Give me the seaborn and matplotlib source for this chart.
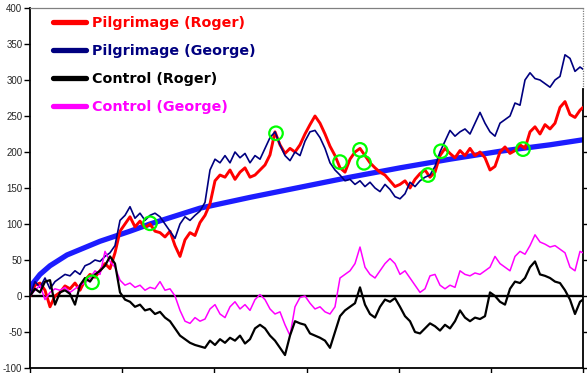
import matplotlib
matplotlib.use("Agg")
import matplotlib.pyplot as plt
import seaborn as sns
import pandas as pd
import numpy as np
from matplotlib.lines import Line2D

# ---------------- data ----------------
days = list(range(0, 551, 5)) + [553]

pilgrimage_roger = [
    0, 15, 18, 8, -15, 0, 5, 14, 10, 18, 8, 22, 30, 26, 35, 45, 38, 60, 90, 100,
    110, 96, 104, 95, 100, 90, 88, 82, 90, 70, 55, 78, 88, 84, 102, 112, 128, 160, 168, 165,
    175, 162, 172, 178, 165, 168, 175, 182, 196, 228, 210, 198, 205, 200, 210, 225, 238, 250, 240, 225,
    208, 195, 178, 172, 190, 200, 205, 195, 185, 178, 172, 168, 160, 152, 155, 160, 150, 162, 170, 175,
    165, 172, 195, 205, 198, 192, 202, 195, 205, 195, 200, 192, 175, 180, 200, 207, 198, 202, 210, 205,
    228, 235, 225, 238, 232, 240, 262, 270, 252, 248, 258, 262]

pilgrimage_george = [
    0, 20, 12, 25, 10, 20, 25, 30, 28, 35, 30, 42, 45, 50, 48, 55, 60, 70, 105, 112,
    124, 108, 115, 105, 112, 115, 110, 100, 90, 80, 100, 110, 105, 112, 118, 130, 175, 190, 185, 195,
    185, 200, 192, 198, 185, 195, 190, 205, 220, 228, 210, 195, 188, 200, 195, 215, 228, 230, 220, 205,
    185, 175, 168, 160, 162, 155, 160, 152, 158, 150, 145, 155, 148, 138, 135, 142, 158, 152, 160, 165,
    168, 180, 200, 215, 230, 222, 228, 232, 225, 240, 255, 240, 228, 222, 240, 245, 250, 268, 265, 300,
    310, 302, 300, 295, 290, 300, 305, 335, 330, 312, 318, 315]

control_roger = [
    0, 10, 5, 20, 22, -12, 5, 8, 3, -12, 15, 25, 20, 30, 35, 42, 55, 45, 5, -5,
    -8, -15, -12, -20, -18, -25, -22, -30, -35, -45, -55, -60, -65, -68, -70, -72, -62, -68, -60, -65,
    -58, -62, -55, -66, -60, -45, -40, -45, -55, -62, -72, -82, -55, -35, -38, -40, -52, -55, -58, -62,
    -72, -50, -28, -20, -15, -10, 12, -12, -25, -30, -15, -5, -8, -3, -15, -28, -35, -50, -52, -45,
    -38, -42, -48, -40, -45, -35, -20, -30, -35, -30, -32, -28, 5, 0, -8, -12, 10, 20, 18, 25,
    40, 48, 30, 28, 25, 20, 18, 8, -5, -25, -8, -5]

control_george = [
    0, 8, 15, -5, 5, 10, 8, 12, 5, 10, 15, 18, 25, 35, 30, 62, 48, 40, 22, 15,
    18, 12, 15, 8, 12, 10, 20, 8, 10, 0, -20, -35, -38, -30, -35, -32, -18, -12, -25, -30,
    -15, -8, -18, -12, -20, -5, 2, -5, -18, -25, -22, -40, -55, -15, -2, 0, -10, -18, -15, -22,
    -25, -15, 25, 30, 35, 45, 68, 40, 30, 25, 35, 45, 52, 45, 30, 35, 25, 15, 5, 10,
    28, 30, 15, 10, 15, 12, 35, 30, 28, 32, 30, 35, 40, 55, 45, 40, 35, 55, 62, 58,
    70, 85, 75, 72, 68, 70, 65, 60, 40, 35, 62, 60]

trend_days = [0, 2, 10, 20, 37, 70, 100, 120, 170, 220, 270, 320, 370, 420, 470, 520, 553]
trend_values = [10, 16, 30, 42, 57, 76, 90, 100, 122, 137, 151, 165, 178, 190, 201, 210, 217]

marker_days = [62, 120, 246, 310, 330, 334, 398, 411, 493]
marker_values = [19, 101, 226, 186, 203, 185, 168, 201, 204]

series_labels = ["Pilgrimage (Roger)", "Pilgrimage (George)", "Control (Roger)", "Control (George)"]
series_colors = ["#FF0000", "#000080", "#000000", "#FF00FF"]
yticks = list(range(-100, 401, 50))

# ---------------- figure ----------------
sns.set_style("white")
plt.rcParams['font.family'] = ['DejaVu Sans']

W, H = 587, 373
fig = plt.figure(figsize=(W / 100, H / 100), dpi=100)
ax = fig.add_axes([30 / W, 5 / H, 553 / W, 360 / H])

trend_df = pd.DataFrame({"day": trend_days, "value": trend_values})
sns.lineplot(data=trend_df, x="day", y="value", ax=ax, color="#1c1cff", linewidth=3.8,
             sort=False, estimator=None, zorder=2)

ax.axhline(0, color="black", linewidth=1.7, zorder=3)

all_series = [pilgrimage_roger, pilgrimage_george, control_roger, control_george]
order = [0, 1, 3, 2]
widths = {0: 2.1, 1: 1.2, 2: 1.6, 3: 1.1}
for idx in order:
    df = pd.DataFrame({"day": days, "value": all_series[idx]})
    sns.lineplot(data=df, x="day", y="value", ax=ax, color=series_colors[idx],
                 linewidth=widths[idx], sort=False, estimator=None, zorder=4)

mk_df = pd.DataFrame({"day": marker_days, "value": marker_values})
sns.scatterplot(data=mk_df, x="day", y="value", ax=ax, s=95, facecolors="none",
                edgecolor="#00FF00", linewidth=1.6, zorder=6)

ax.set_xlim(0, 553)
ax.set_ylim(-100, 400)
ax.set_xlabel("")
ax.set_ylabel("")
ax.set_xticks(np.linspace(0, 553, 7))
ax.set_xticklabels([])
ax.set_yticks(yticks)
ax.set_yticklabels([str(v) for v in yticks], fontsize=7, family="Liberation Sans")
ax.tick_params(axis="y", left=True, length=4, width=1, pad=1.5, color="black")
ax.tick_params(axis="x", bottom=True, length=4, width=1, color="black")

for side in ["left", "bottom"]:
    ax.spines[side].set_color("black")
    ax.spines[side].set_linewidth(1.3)
ax.spines["top"].set_color("#808080")
ax.spines["top"].set_linestyle((0, (1, 1)))
ax.spines["top"].set_linewidth(0.9)
ax.spines["right"].set_color("black")
ax.spines["right"].set_linewidth(1.3)
ax.spines["right"].set_bounds(-100, 287)
ax.axvline(553, ymin=(287 + 100) / 500, ymax=1, color="#808080",
           linestyle=(0, (1, 1)), linewidth=0.9, clip_on=False)

sec = ax.secondary_yaxis("right")
sec.set_yticks(list(range(-100, 251, 50)))
sec.set_yticklabels([])
sec.tick_params(length=4, width=1, color="black")
sec.spines["right"].set_visible(False)

handles = [Line2D([0], [0], color=c, linewidth=3.8) for c in series_colors]
leg = ax.legend(handles, series_labels, loc="upper left",
                bbox_to_anchor=(53 / W, 1 - 16 / H), bbox_transform=fig.transFigure,
                frameon=False, borderpad=0, borderaxespad=0, handlelength=2.3,
                handletextpad=0.45, labelspacing=0.97,
                prop={"family": "DejaVu Sans", "weight": "bold", "size": 10.3})
for txt, c in zip(leg.get_texts(), series_colors):
    txt.set_color(c)

fig.savefig("out.png", dpi=100)
